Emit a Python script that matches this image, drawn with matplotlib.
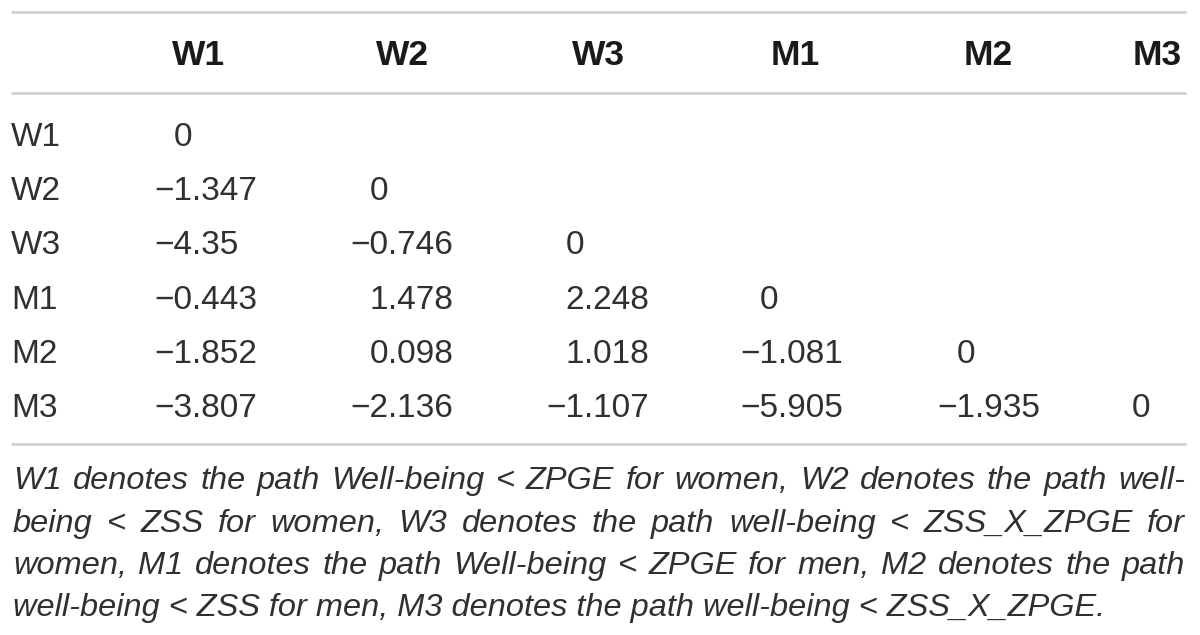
import matplotlib
matplotlib.use("Agg")
import matplotlib.pyplot as plt

# ---- data ----
row_labels = ["W1", "W2", "W3", "M1", "M2", "M3"]
col_labels = ["W1", "W2", "W3", "M1", "M2", "M3"]
row_W1 = [0]
row_W2 = [-1.347, 0]
row_W3 = [-4.35, -0.746, 0]
row_M1 = [-0.443, 1.478, 2.248, 0]
row_M2 = [-1.852, 0.098, 1.018, -1.081, 0]
row_M3 = [-3.807, -2.136, -1.107, -5.905, -1.935, 0]
rows = [row_W1, row_W2, row_W3, row_M1, row_M2, row_M3]
footnote_lines = [
    "W1 denotes the path Well-being < ZPGE for women, W2 denotes the path well-",
    "being < ZSS for women, W3 denotes the path well-being < ZSS_X_ZPGE for",
    "women, M1 denotes the path Well-being < ZPGE for men, M2 denotes the path",
    "well-being < ZSS for men, M3 denotes the path well-being < ZSS_X_ZPGE.",
]

# ---- layout ----
W, H = 1200, 635
fig = plt.figure(figsize=(W / 100, H / 100), dpi=100)
ax = fig.add_axes([0, 0, 1, 1])
ax.set_xlim(0, W)
ax.set_ylim(H, 0)
ax.axis("off")

FONT = "Liberation Sans"
TXT = "#303030"
LINE = "#cfcfcf"
fs = 24

x0, x1 = 11, 1186
for y in (12, 93, 444):
    ax.plot([x0, x1], [y, y], color=LINE, lw=1.9, solid_capstyle="butt")

header_x = [199, 402, 598, 795, 988, 1157]
dec_x = [192, 388, 584, 778, 975, 1150]
header_base = 65
row_base = [146, 200, 254, 309, 363, 417]

for cx, lab in zip(header_x, col_labels):
    ax.text(cx, header_base, lab, ha="center", va="baseline", fontsize=25.5,
            fontweight="bold", family=FONT, color="#1a1a1a")

def fmt(v):
    return f"{v:g}".replace("-", "\u2212")

for ri, (lab, vals) in enumerate(zip(row_labels, rows)):
    yb = row_base[ri]
    ax.text(x0, yb, lab, ha="left", va="baseline", fontsize=fs, family=FONT, color=TXT)
    for ci, v in enumerate(vals):
        s = fmt(v)
        if "." in s:
            ip, fp = s.split(".")
            ax.text(dec_x[ci], yb, ip, ha="right", va="baseline", fontsize=fs,
                    family=FONT, color=TXT)
            ax.text(dec_x[ci], yb, "." + fp, ha="left", va="baseline", fontsize=fs,
                    family=FONT, color=TXT)
        else:
            ax.text(dec_x[ci], yb, s, ha="right", va="baseline", fontsize=fs,
                    family=FONT, color=TXT)

# ---- footnote (justified) ----
fig.canvas.draw()
renderer = fig.canvas.get_renderer()

def width_px(s, size):
    t = ax.text(0, 0, s, fontsize=size, family=FONT, style="italic")
    w = t.get_window_extent(renderer).width
    t.remove()
    return w

last_target = 1102 - 13
fs_note = 22
fs_note = fs_note * last_target / width_px(footnote_lines[-1], fs_note)

note_base = [489, 532, 574, 616]
left, right = 13, 1185
for li, line in enumerate(footnote_lines):
    yb = note_base[li]
    if li == len(footnote_lines) - 1:
        ax.text(left, yb, line, ha="left", va="baseline", fontsize=fs_note,
                family=FONT, style="italic", color=TXT)
        continue
    words = line.split(" ")
    widths = [width_px(w, fs_note) for w in words]
    gap = (right - left - sum(widths)) / (len(words) - 1)
    x = left
    for w, wd in zip(words, widths):
        ax.text(x, yb, w, ha="left", va="baseline", fontsize=fs_note,
                family=FONT, style="italic", color=TXT)
        x += wd + gap

fig.savefig("out.png", dpi=100, facecolor="white")
